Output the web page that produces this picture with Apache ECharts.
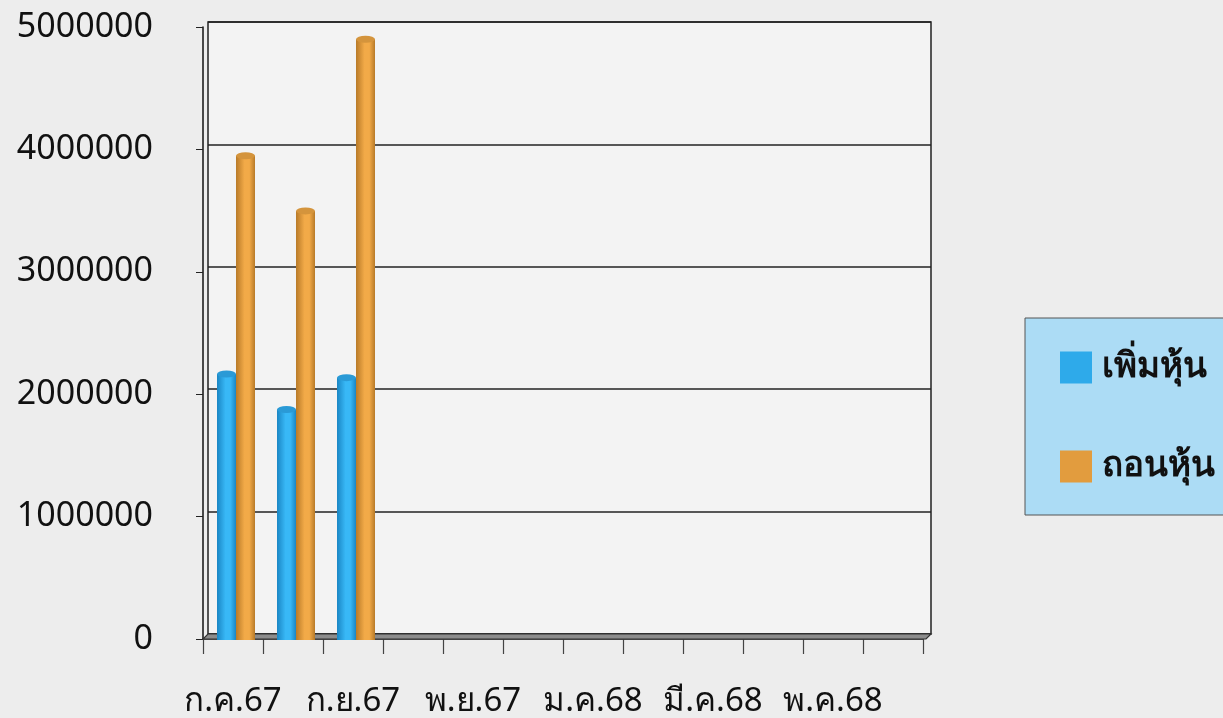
<!DOCTYPE html>
<html>
<head>
<meta charset="utf-8">
<script src="https://cdn.jsdelivr.net/npm/echarts@6/dist/echarts.min.js"></script>
<style>
html,body{margin:0;padding:0;background:#ededed;}
#c{width:1223px;height:718px;}
</style>
</head>
<body>
<div id="c"></div>
<script>
var categories = ['ก.ค.67','ส.ค.67','ก.ย.67','ต.ค.67','พ.ย.67','ธ.ค.67','ม.ค.68','ก.พ.68','มี.ค.68','เม.ย.68','พ.ค.68','มิ.ย.68'];
var addShares = [2170000, 1880000, 2140000, null, null, null, null, null, null, null, null, null];
var withdrawShares = [3950000, 3500000, 4900000, null, null, null, null, null, null, null, null, null];
var seriesNames = ['เพิ่มหุ้น', 'ถอนหุ้น'];
var yMax = 5000000;
var yStep = 1000000;

var FONT = 'Tahoma, "Noto Sans", "DejaVu Sans", sans-serif';
var chart = echarts.init(document.getElementById('c'), null, {renderer: 'canvas'});

function cyl(c1, c2) {
  return new echarts.graphic.LinearGradient(0, 0, 1, 0, [
    {offset: 0, color: c1}, {offset: 0.45, color: c2}, {offset: 0.7, color: c2}, {offset: 1, color: c1}
  ]);
}

var hiddenAxis = {axisLine: {show: false}, axisTick: {show: false}, axisLabel: {show: false}, splitLine: {show: false}};

var option = {
  backgroundColor: '#ededed',
  animation: false,
  textStyle: {fontFamily: FONT},
  legend: {
    orient: 'vertical',
    left: 1025, top: 318,
    width: 198,
    padding: [32, 20, 31, 35],
    itemWidth: 32, itemHeight: 32, itemGap: 64,
    backgroundColor: '#acdcf5',
    borderColor: '#555',
    borderWidth: 1,
    icon: 'rect',
    data: [
      {name: seriesNames[0], itemStyle: {color: '#2eaaea'}},
      {name: seriesNames[1], itemStyle: {color: '#e29c3e'}}
    ],
    textStyle: {fontSize: 35, fontWeight: 'bold', color: '#111', fontFamily: FONT, padding: [0,0,0,5]}
  },
  grid: [
    {left: 203, top: 27, width: 720, height: 613, show: false},
    {left: 208, top: 22, width: 723, height: 612, show: true, backgroundColor: '#f3f3f3', borderColor: '#222', borderWidth: 1.5},
    {left: 206, top: 27, width: 720, height: 613, show: false}
  ],
  xAxis: [
    {
      gridIndex: 0, type: 'category', data: categories,
      axisLine: {show: true, lineStyle: {color: '#222', width: 1.5}},
      axisTick: {show: true, interval: 0, length: 15, lineStyle: {color: '#444', width: 1.2}},
      axisLabel: {interval: 1, fontSize: 33, color: '#111', margin: 46, fontFamily: FONT},
      splitLine: {show: false}
    },
    Object.assign({gridIndex: 1, type: 'category', data: categories}, hiddenAxis),
    Object.assign({gridIndex: 2, type: 'category', data: categories}, hiddenAxis)
  ],
  yAxis: [
    {
      gridIndex: 0, type: 'value', min: 0, max: yMax, interval: yStep,
      axisLine: {show: true, lineStyle: {color: '#111', width: 1.5}},
      axisTick: {show: true, length: 7, lineStyle: {color: '#222'}},
      axisLabel: {fontSize: 34, color: '#111', margin: 50, fontFamily: FONT,
        formatter: function (v) { return String(v); }},
      splitLine: {show: false}
    },
    {
      gridIndex: 1, type: 'value', min: 0, max: yMax, interval: yStep,
      axisLine: {show: false}, axisTick: {show: false}, axisLabel: {show: false},
      splitLine: {show: true, lineStyle: {color: '#222', width: 1.5}}
    },
    Object.assign({gridIndex: 2, type: 'value', min: 0, max: yMax, interval: yStep}, hiddenAxis)
  ],
  series: [
    {
      name: seriesNames[0], type: 'bar', xAxisIndex: 2, yAxisIndex: 2,
      data: addShares, barWidth: 19, barGap: '0%', z: 3,
      itemStyle: {color: cyl('#1a86c4', '#38b8f6')}
    },
    {
      name: seriesNames[1], type: 'bar', xAxisIndex: 2, yAxisIndex: 2,
      data: withdrawShares, barWidth: 19, barGap: '0%', z: 3,
      itemStyle: {color: cyl('#b87a28', '#f2aa48')}
    },
    {
      name: seriesNames[0], type: 'pictorialBar', xAxisIndex: 2, yAxisIndex: 2,
      data: addShares, barWidth: 19, barGap: '0%', z: 4,
      symbol: 'circle', symbolSize: [19, 7], symbolPosition: 'end', symbolOffset: [0, '-50%'],
      itemStyle: {color: '#2a9ad6'}, legendHoverLink: false
    },
    {
      name: seriesNames[1], type: 'pictorialBar', xAxisIndex: 2, yAxisIndex: 2,
      data: withdrawShares, barWidth: 19, barGap: '0%', z: 4,
      symbol: 'circle', symbolSize: [19, 7], symbolPosition: 'end', symbolOffset: [0, '-50%'],
      itemStyle: {color: '#d4943c'}, legendHoverLink: false
    }
  ]
};
chart.setOption(option);

// 3D floor decoration (derived from the grid rectangles)
var gridFront = chart.getModel().getComponent('grid', 0).coordinateSystem.getRect();
var gridBack = chart.getModel().getComponent('grid', 1).coordinateSystem.getRect();
var yFront = gridFront.y + gridFront.height;
var yBack = gridBack.y + gridBack.height;
chart.setOption({
  graphic: [{
    type: 'polygon', z: 1,
    shape: {points: [
      [gridFront.x, yFront], [gridFront.x + gridFront.width + 3, yFront],
      [gridBack.x + gridBack.width, yBack], [gridBack.x, yBack]
    ]},
    style: {fill: '#8c8c8c', stroke: '#333', lineWidth: 1.2}
  }]
});
</script>
</body>
</html>
